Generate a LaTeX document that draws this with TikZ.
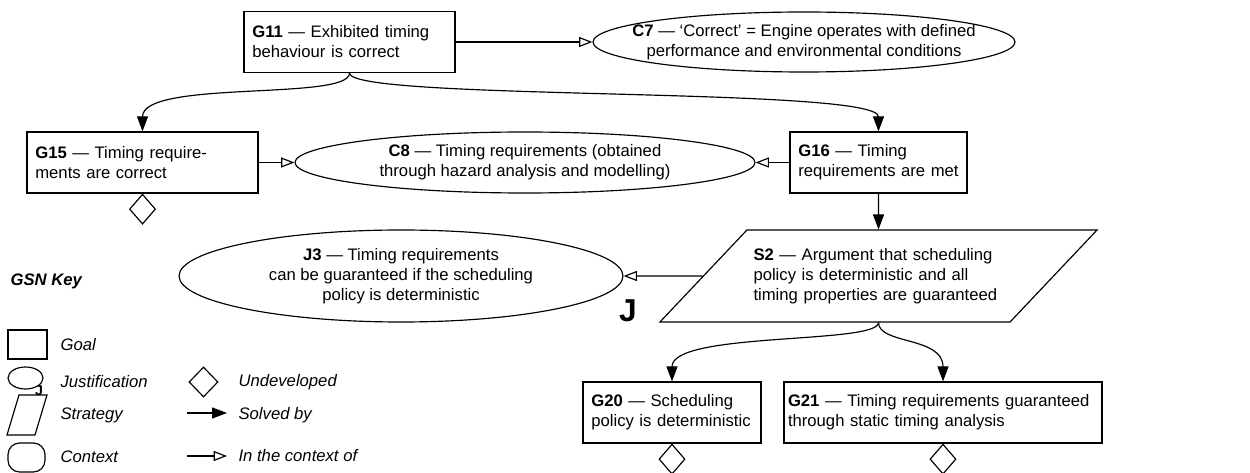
\documentclass[tikz,border=0pt]{standalone}
\usepackage{fontspec}
\setmainfont{Liberation Sans}
\usetikzlibrary{shapes.geometric,arrows.meta}

\begin{document}
\begin{tikzpicture}[x=0.6pt,y=-0.6pt,line width=0.7pt,font=\fontsize{10}{12}\selectfont]
	\tikzstyle{goal} = [rectangle,draw=black,align=left,inner xsep=5pt,minimum height=36.6pt]
	\tikzstyle{oval} = [ellipse,draw=black,align=center,inner xsep=-40pt,inner ysep=0pt]
	\tikzstyle{strategy} = [trapezium,draw=black,align=left,trapezium stretches body,trapezium left angle=46.6,trapezium right angle=133.4]
	\tikzstyle{undev} = [diamond,draw=black,inner sep=0pt,minimum width=15.6pt,minimum height=18pt]
	\tikzstyle{solve} = [-{Triangle[length=9pt,width=6.6pt]}]
	\tikzstyle{incontext} = [-{Triangle[open,length=8pt,width=6pt]}]
	\tikzstyle{keytext} = [anchor=west,inner sep=0pt,font=\fontsize{10}{12}\selectfont\itshape]
	\useasboundingbox (0,0) rectangle (1250,473);
	% goals
	\node[goal,text width=116.6pt] (goal11) at (349.5,42) {\textbf{G11} — Exhibited timing\\behaviour is correct};
	\node[goal,text width=128.6pt] (goal15) at (142.5,162.5) {\textbf{G15} — Timing require-\\ments are correct};
	\node[goal,text width=96.2pt] (goal16) at (878.5,162.5) {\textbf{G16} — Timing\\requirements are met};
	\node[goal,text width=96.8pt] (goal20) at (672,412.5) {\textbf{G20} — Scheduling\\policy is deterministic};
	\node[goal,inner xsep=2.4pt,text width=186pt] (goal21) at (943,412.5) {\textbf{G21} — Timing requirements guaranteed\\through static timing analysis};
	% contexts and justification
	\node[oval,minimum width=253.2pt,minimum height=36pt] (ctx7) at (804,42) {\textbf{C7} — ‘Correct’ = Engine operates with defined\\performance and environmental conditions};
	\node[oval,minimum width=276pt,minimum height=36.6pt] (ctx8) at (525,162.5) {\textbf{C8} — Timing requirements (obtained\\through hazard analysis and modelling)};
	\node[oval,minimum width=266.4pt,minimum height=55.2pt] (just3) at (401,276) {\textbf{J3} — Timing requirements\\can be guaranteed if the scheduling\\policy is deterministic};
	\node[font=\bfseries\fontsize{19}{19}\selectfont] (just3tag) at (628,311) {J};
	% strategy
	\node[strategy,text width=150pt,inner ysep=10.9pt,minimum width=262.2pt] (strat2) at (878.5,276) {\textbf{S2} — Argument that scheduling\\policy is deterministic and all\\timing properties are guaranteed};
	% undeveloped goals
	\foreach \g in {15,20,21}
		\node[undev,anchor=north] (undev\g) at (goal\g.south) {};
	% solved by
	\draw[solve] (goal11.south) .. controls +(0,28) and +(0,-52) .. (goal15.north);
	\draw[solve] (goal11.south) .. controls +(0,28) and +(0,-45) .. (goal16.north);
	\draw[solve] (goal16) -- (strat2);
	\draw[solve] (strat2.south) .. controls +(0,22) and +(0,-50) .. (goal20.north);
	\draw[solve] (strat2.south) .. controls +(0,22) and +(0,-45) .. (goal21.north);
	% in the context of
	\draw[incontext] (goal11) -- (ctx7);
	\draw[incontext] (goal15) -- (ctx8);
	\draw[incontext] (goal16) -- (ctx8);
	\draw[incontext] (strat2) -- (just3);
	% key
	\node[anchor=west,inner sep=0pt,font=\fontsize{10}{12}\selectfont\bfseries\itshape] (keytitle) at (10,281) {GSN Key};
	\node[goal,inner sep=0pt,minimum width=23.4pt,minimum height=17.4pt] (keygoal) at (27.5,344.5) {};
	\node[oval,minimum width=21pt,minimum height=13.2pt] (keyjust) at (25.5,378) {};
	\node[font=\bfseries\fontsize{8.5}{8.5}\selectfont,inner sep=0pt] (keyjusttag) at (39,390.5) {J};
	\node[strategy,inner xsep=0pt,inner ysep=12pt,trapezium left angle=73.3,trapezium right angle=106.7,minimum width=24pt] (keystrat) at (27,415) {};
	\node[draw=black,rounded corners=7pt,minimum width=22.2pt,minimum height=17.4pt] (keyctx) at (26.5,457.5) {};
	\node[undev,minimum width=17.4pt] (keyundev) at (203.5,382) {};
	\coordinate (keysolveA) at (187,413);
	\coordinate (keysolveB) at (227,413);
	\coordinate (keyctxA) at (187,456);
	\coordinate (keyctxB) at (227,456);
	\draw[solve] (keysolveA) -- (keysolveB);
	\draw[incontext] (keyctxA) -- (keyctxB);
	\node[keytext] (keygoaltext) at (60,345) {Goal};
	\node[keytext] (keyjusttext) at (60,382) {Justification};
	\node[keytext] (keystrattext) at (60,415) {Strategy};
	\node[keytext] (keyctxtext) at (60,457) {Context};
	\node[keytext] (keyundevtext) at (238,382) {Undeveloped};
	\node[keytext] (keysolvetext) at (238,415) {Solved by};
	\node[keytext] (keyincontext) at (238,456) {In the context of};
\end{tikzpicture}
\end{document}
